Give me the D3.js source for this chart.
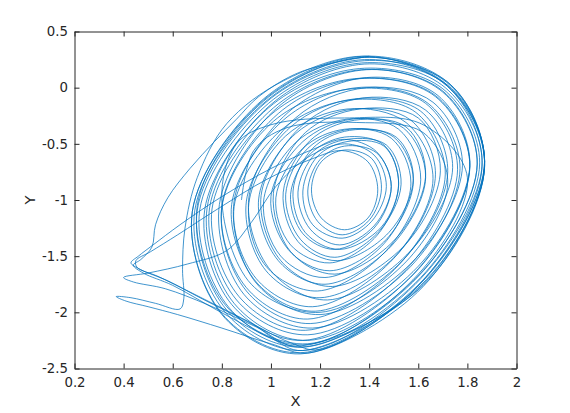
<!DOCTYPE html>
<html><head><meta charset="utf-8">
<script src="https://cdn.jsdelivr.net/npm/d3@7"></script>
<style>body{margin:0;background:#fff}svg{display:block}</style>
</head><body>
<svg id="chart" width="570" height="413"></svg>
<script>
// ---- axis ticks ----
const xTicks = [0.2, 0.4, 0.6, 0.8, 1, 1.2, 1.4, 1.6, 1.8, 2];
const xTickLabels = ["0.2", "0.4", "0.6", "0.8", "1", "1.2", "1.4", "1.6", "1.8", "2"];
const yTicks = [-2.5, -2, -1.5, -1, -0.5, 0, 0.5];
const yTickLabels = ["-2.5", "-2", "-1.5", "-1", "-0.5", "0", "0.5"];
const xLabel = "X";
const yLabel = "Y";

// ---- trajectory (X, Y), in drawing order ----
const arcStart = [[1.40,0.28],[1.12,0.14],[0.95,-0.08],[0.86,-0.28],[0.77,-0.48],[0.67,-0.72],[0.58,-0.98],[0.53,-1.22],[0.515,-1.42],[0.47,-1.53],[0.44,-1.58],[0.48,-1.65],[0.60,-1.76],[0.78,-1.98],[1.00,-2.23],[1.13,-2.34],[1.62,-1.75],[1.87,-0.69],[1.73,0.03]];

const spiral1 = [
 [[1.38,0.28],[0.97,-0.10],[0.68,-1.10],[0.80,-2.02],[1.12,-2.37],[1.62,-1.72],[1.87,-0.66],[1.72,0.02]],
 [[1.37,0.22],[0.99,-0.14],[0.71,-1.09],[0.83,-1.96],[1.13,-2.29],[1.60,-1.68],[1.84,-0.68],[1.70,-0.03]],
 [[1.37,0.16],[1.01,-0.18],[0.75,-1.07],[0.86,-1.89],[1.15,-2.20],[1.59,-1.64],[1.81,-0.70],[1.67,-0.08]],
 [[1.36,0.08],[1.03,-0.23],[0.80,-1.05],[0.90,-1.81],[1.16,-2.10],[1.57,-1.59],[1.77,-0.72],[1.64,-0.14]],
 [[1.35,0.00],[1.05,-0.29],[0.84,-1.04],[0.94,-1.73],[1.18,-1.99],[1.54,-1.53],[1.72,-0.75],[1.61,-0.21]],
 [[1.34,-0.10],[1.08,-0.35],[0.90,-1.01],[0.98,-1.63],[1.20,-1.87],[1.52,-1.47],[1.67,-0.77],[1.57,-0.29]],
 [[1.34,-0.19],[1.10,-0.41],[0.95,-0.99],[1.03,-1.54],[1.22,-1.75],[1.49,-1.41],[1.63,-0.80],[1.54,-0.36]],
 [[1.33,-0.28],[1.13,-0.48],[1.00,-0.97],[1.07,-1.44],[1.24,-1.63],[1.47,-1.35],[1.58,-0.83],[1.50,-0.44]],
 [[1.32,-0.37],[1.15,-0.54],[1.06,-0.95],[1.12,-1.35],[1.26,-1.51],[1.44,-1.28],[1.53,-0.86],[1.47,-0.51]],
 [[1.31,-0.46],[1.18,-0.59],[1.11,-0.93],[1.16,-1.26],[1.28,-1.40],[1.42,-1.23],[1.49,-0.88],[1.43,-0.58]],
 [[1.30,-0.52],[1.20,-0.64],[1.15,-0.92],[1.19,-1.19],[1.29,-1.31],[1.40,-1.18],[1.45,-0.90],[1.41,-0.63]],
 [[1.30,-0.555],[1.205,-0.66],[1.165,-0.91],[1.205,-1.16],[1.30,-1.265],[1.395,-1.16],[1.435,-0.91],[1.395,-0.66]]
];

const exitB = [[1.29,-0.56],[1.16,-0.64],[0.98,-0.82],[0.79,-1.07],[0.62,-1.31],[0.51,-1.46],[0.45,-1.54],[0.455,-1.60],[0.54,-1.68],[0.68,-1.83],[0.88,-2.05],[1.08,-2.27],[1.20,-2.33],[1.61,-1.74],[1.86,-0.70],[1.72,0.01]];

const spiral2 = [
 [[1.38,0.25],[0.98,-0.12],[0.69,-1.09],[0.81,-1.99],[1.13,-2.34],[1.61,-1.70],[1.86,-0.67],[1.71,0.00]],
 [[1.38,0.21],[1.00,-0.15],[0.74,-1.07],[0.85,-1.92],[1.15,-2.25],[1.61,-1.65],[1.84,-0.68],[1.70,-0.04]],
 [[1.39,0.16],[1.03,-0.17],[0.79,-1.04],[0.89,-1.84],[1.17,-2.14],[1.60,-1.59],[1.81,-0.68],[1.68,-0.07]],
 [[1.39,0.09],[1.07,-0.22],[0.85,-1.01],[0.94,-1.74],[1.20,-2.02],[1.59,-1.52],[1.78,-0.69],[1.66,-0.13]],
 [[1.39,0.00],[1.10,-0.27],[0.91,-0.98],[1.00,-1.63],[1.23,-1.89],[1.57,-1.45],[1.74,-0.71],[1.63,-0.20]],
 [[1.38,-0.09],[1.13,-0.33],[0.96,-0.96],[1.04,-1.54],[1.25,-1.77],[1.55,-1.39],[1.69,-0.74],[1.60,-0.27]],
 [[1.36,-0.19],[1.14,-0.40],[1.01,-0.94],[1.08,-1.46],[1.26,-1.66],[1.51,-1.34],[1.63,-0.77],[1.55,-0.35]],
 [[1.34,-0.29],[1.16,-0.47],[1.05,-0.93],[1.11,-1.37],[1.27,-1.54],[1.48,-1.29],[1.58,-0.81],[1.51,-0.44]],
 [[1.32,-0.38],[1.17,-0.54],[1.09,-0.92],[1.14,-1.29],[1.28,-1.44],[1.45,-1.24],[1.52,-0.85],[1.46,-0.52]],
 [[1.31,-0.48],[1.19,-0.61],[1.13,-0.92],[1.17,-1.22],[1.29,-1.34],[1.41,-1.19],[1.47,-0.88],[1.42,-0.60]]
];

const exitC = [[1.30,-0.50],[1.15,-0.62],[1.02,-0.88],[0.92,-1.20],[0.82,-1.45],[0.66,-1.57],[0.50,-1.65],[0.40,-1.69],[0.44,-1.73],[0.57,-1.79],[0.74,-1.93],[0.94,-2.13],[1.12,-2.31],[1.61,-1.76],[1.87,-0.71],[1.73,0.02]];

const spiral3a = [
 [[1.38,0.27],[0.97,-0.11],[0.68,-1.10],[0.80,-2.01],[1.12,-2.36],[1.62,-1.71],[1.87,-0.66],[1.72,0.01]]
];

const hookA = [[1.39,0.28],[1.05,0.06],[0.82,-0.32],[0.70,-0.80],[0.65,-1.25],[0.64,-1.62],[0.645,-1.88],[0.63,-1.97],[0.53,-1.92],[0.43,-1.87],[0.37,-1.86],[0.41,-1.90],[0.50,-1.95],[0.62,-2.02],[0.80,-2.14],[1.00,-2.28],[1.16,-2.36],[1.62,-1.77],[1.87,-0.70],[1.73,0.03]];

const spiral3b = [
 [[1.38,0.24],[0.98,-0.13],[0.70,-1.09],[0.82,-1.98],[1.13,-2.31],[1.61,-1.69],[1.85,-0.67],[1.70,-0.01]],
 [[1.36,0.17],[0.99,-0.18],[0.73,-1.09],[0.84,-1.93],[1.13,-2.25],[1.58,-1.66],[1.81,-0.70],[1.67,-0.07]],
 [[1.34,0.08],[1.00,-0.24],[0.76,-1.08],[0.87,-1.86],[1.14,-2.16],[1.55,-1.62],[1.76,-0.73],[1.63,-0.14]],
 [[1.33,-0.01],[1.01,-0.30],[0.80,-1.07],[0.90,-1.78],[1.15,-2.06],[1.52,-1.58],[1.71,-0.77],[1.59,-0.22]],
 [[1.32,-0.11],[1.04,-0.38],[0.85,-1.06],[0.94,-1.70],[1.17,-1.95],[1.50,-1.52],[1.66,-0.81],[1.55,-0.31]],
 [[1.31,-0.19],[1.06,-0.43],[0.91,-1.03],[0.98,-1.59],[1.19,-1.81],[1.47,-1.45],[1.61,-0.82],[1.52,-0.37]],
 [[1.31,-0.28],[1.10,-0.49],[0.97,-1.01],[1.04,-1.50],[1.22,-1.69],[1.46,-1.39],[1.57,-0.85],[1.49,-0.45]],
 [[1.30,-0.37],[1.13,-0.54],[1.02,-0.98],[1.08,-1.40],[1.24,-1.56],[1.43,-1.32],[1.52,-0.87],[1.46,-0.51]],
 [[1.30,-0.44],[1.16,-0.59],[1.08,-0.95],[1.13,-1.30],[1.26,-1.44],[1.42,-1.25],[1.49,-0.88],[1.43,-0.57]]
];

const exitD = [[1.30,-0.46],[1.17,-0.55],[1.00,-0.72],[0.80,-0.97],[0.63,-1.22],[0.52,-1.40],[0.46,-1.50],[0.43,-1.56],[0.47,-1.62],[0.58,-1.72],[0.72,-1.88],[0.92,-2.10],[1.10,-2.30],[1.62,-1.76],[1.87,-0.70],[1.72,0.02],[1.38,0.27]];

const tailE = [[0.97,-0.12],[0.70,-1.05],[0.82,-1.95],[1.15,-2.28],[1.60,-1.66],[1.80,-0.80],[1.62,-0.33],[1.30,-0.27],[1.00,-0.33],[0.86,-0.50],[0.80,-1.00],[0.92,-1.75],[1.20,-2.00],[1.55,-1.55],[1.72,-0.85],[1.62,-0.40],[1.35,-0.31],[1.06,-0.36],[0.93,-0.56],[0.88,-1.00]];

const trajectory = [].concat(arcStart, spiral1.flat(), exitB, spiral2.flat(), exitC, spiral3a.flat(), hookA, spiral3b.flat(), exitD, tailE);

// ---- drawing ----
const svg = d3.select("#chart");
const pLeft = 74.5, pRight = 516.5, pTop = 31.5, pBottom = 368.5;
const x = d3.scaleLinear().domain([0.2, 2]).range([pLeft, pRight]);
const y = d3.scaleLinear().domain([-2.5, 0.5]).range([pBottom, pTop]);
const axisColor = "#262626";
const font = "'DejaVu Sans', sans-serif";

svg.append("rect").attr("x", 0).attr("y", 0).attr("width", 570).attr("height", 413).attr("fill", "#fff");

svg.append("clipPath").attr("id", "clip").append("rect")
  .attr("x", pLeft).attr("y", pTop).attr("width", pRight - pLeft).attr("height", pBottom - pTop);

const line = d3.line().x(d => x(d[0])).y(d => y(d[1])).curve(d3.curveCatmullRom.alpha(0.5));
svg.append("path").datum(trajectory)
  .attr("clip-path", "url(#clip)")
  .attr("fill", "none").attr("stroke", "#0072BD").attr("stroke-width", 0.75)
  .attr("d", line);

function styleAxis(g) {
  g.select(".domain").attr("stroke", axisColor).attr("stroke-width", 1);
  g.selectAll(".tick line").attr("stroke", axisColor).attr("stroke-width", 1);
  g.selectAll(".tick text").attr("fill", axisColor).style("font-family", font).style("font-size", "13.3px");
}

svg.append("g").attr("transform", `translate(0,${pBottom})`)
  .call(d3.axisBottom(x).tickValues(xTicks).tickFormat((d, i) => xTickLabels[i]).tickSizeInner(-5).tickSizeOuter(0).tickPadding(9))
  .call(styleAxis);
svg.append("g").attr("transform", `translate(0,${pTop})`)
  .call(d3.axisTop(x).tickValues(xTicks).tickFormat("").tickSizeInner(-5).tickSizeOuter(0))
  .call(styleAxis);
svg.append("g").attr("transform", `translate(${pLeft},0)`)
  .call(d3.axisLeft(y).tickValues(yTicks).tickFormat((d, i) => yTickLabels[i]).tickSizeInner(-5).tickSizeOuter(0).tickPadding(6.5))
  .call(styleAxis);
svg.append("g").attr("transform", `translate(${pRight},0)`)
  .call(d3.axisRight(y).tickValues(yTicks).tickFormat("").tickSizeInner(-5).tickSizeOuter(0))
  .call(styleAxis);

svg.append("text").attr("x", (pLeft + pRight) / 2).attr("y", 406)
  .attr("text-anchor", "middle").attr("fill", axisColor)
  .style("font-family", font).style("font-size", "14.7px").text(xLabel);
svg.append("text").attr("transform", `translate(35,${(pTop + pBottom) / 2}) rotate(-90)`)
  .attr("text-anchor", "middle").attr("fill", axisColor)
  .style("font-family", font).style("font-size", "14.7px").text(yLabel);
</script>
</body></html>
